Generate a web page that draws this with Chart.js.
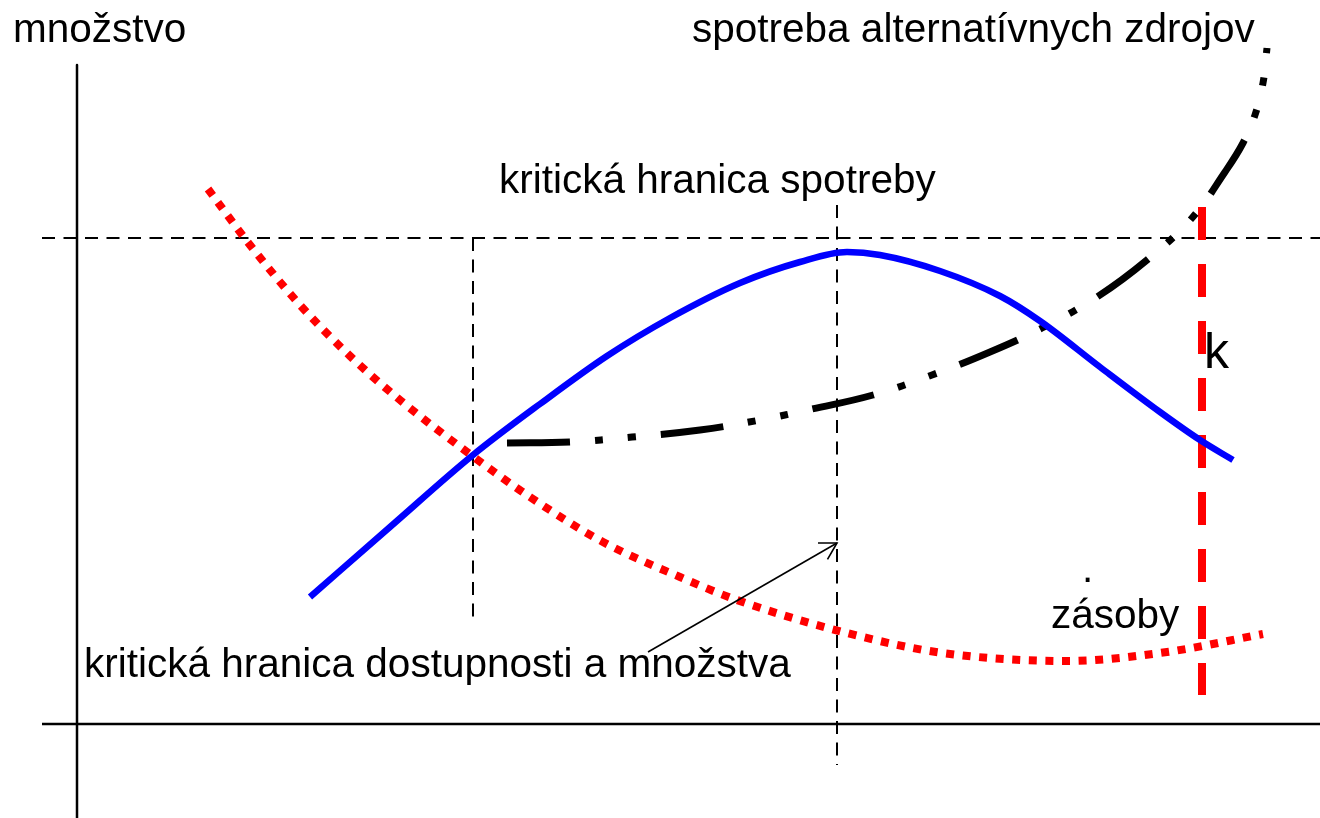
<!DOCTYPE html>
<html>
<head>
<meta charset="utf-8">
<script src="https://cdn.jsdelivr.net/npm/chart.js@4.4.1/dist/chart.umd.min.js"></script>
<style>
html,body{margin:0;padding:0;background:#ffffff;overflow:hidden;}
#wrap{width:1320px;height:818px;}
canvas{display:block;}
</style>
</head>
<body>
<div id="wrap"><canvas id="c" width="1320" height="818"></canvas></div>
<script>
// ---- data (schematic units, origin at the axes crossing) ----
const consumptionX = [233,313,396,463,530,593,663,723,770,803,863,923,963,1023,1083,1123,1156];
const consumptionY = [127,197,269,320,368,406,441,462,472,469,453,428,403,357,312,284,264];

const reservesX = [131,173,223,273,323,390,453,526,603,660,770,866,990,1090,1186];
const reservesY = [535,479,419,368,324,272,227,182,147,124,91,71,63,72,90];

const alternativeX = [430,493,555,623,683,735,796,855,913,965,1020,1070,1115,1148,1166,1178,1186,1190];
const alternativeY = [281,282,287,294,304,315,329,349,372,396,427,464,506,552,581,609,641,676];

const criticalLevelX = [-35,1243];
const criticalLevelY = [486,486];

const availabilityLimitX = [396,396];
const availabilityLimitY = [486,101];

const consumptionLimitX = [760,760];
const consumptionLimitY = [519,-41];

const kLimitX = [1125,1125];
const kLimitY = [517,29];

const yAxisX = [0,0];
const yAxisY = [659,-94];
const xAxisX = [-35,1243];
const xAxisY = [0,0];

const arrowX = [571,760];
const arrowY = [72,181];

const labelTexts = [
  'množstvo',
  'spotreba alternatívnych zdrojov',
  'kritická hranica spotreby',
  'k',
  'zásoby',
  '.',
  'kritická hranica dostupnosti a množstva'
];
// placement of the texts (kept separate from the data)
const labelPlacement = [
  {x:-64, y:682, size:40.5},
  {x:615, y:682, size:40.5},
  {x:422, y:531, size:40.5},
  {x:1127, y:356, size:50},
  {x:974, y:96, size:40.5},
  {x:1005, y:142, size:40.5},
  {x:7, y:47, size:40.5}
];

function pts(xs, ys){ return xs.map((v,i)=>({x:v, y:ys[i]})); }

function lineSet(xs, ys, color, width, dash, curve){
  const ds = {
    data: pts(xs, ys),
    showLine: true,
    borderColor: color,
    backgroundColor: color,
    borderWidth: width,
    borderDash: dash || [],
    borderCapStyle: 'butt',
    borderJoinStyle: 'round',
    pointRadius: 0,
    pointHoverRadius: 0,
    tension: 0,
    fill: false,
    clip: false
  };
  if (curve === 'monotone') { ds.cubicInterpolationMode = 'monotone'; ds.tension = 0.4; }
  else if (curve) { ds.tension = curve; }
  return ds;
}

const FONT = '"Liberation Sans", Arial, Helvetica, sans-serif';

const overlayPlugin = {
  id: 'overlay',
  afterDatasetsDraw(chart){
    const {ctx, scales:{x, y}} = chart;
    ctx.save();
    // arrow head
    const tx = x.getPixelForValue(arrowX[1]), ty = y.getPixelForValue(arrowY[1]);
    const sx = x.getPixelForValue(arrowX[0]), sy = y.getPixelForValue(arrowY[0]);
    const ang = Math.atan2(ty - sy, tx - sx);
    const len = 19;
    ctx.strokeStyle = '#000';
    ctx.lineWidth = 1.6;
    ctx.beginPath();
    ctx.moveTo(tx + len*Math.cos(ang + Math.PI - Math.PI/6), ty + len*Math.sin(ang + Math.PI - Math.PI/6));
    ctx.lineTo(tx, ty);
    ctx.lineTo(tx + len*Math.cos(ang + Math.PI + Math.PI/6), ty + len*Math.sin(ang + Math.PI + Math.PI/6));
    ctx.stroke();
    // texts
    ctx.fillStyle = '#000';
    ctx.textAlign = 'left';
    ctx.textBaseline = 'alphabetic';
    labelTexts.forEach((t, i) => {
      const p = labelPlacement[i];
      ctx.font = p.size + 'px ' + FONT;
      ctx.fillText(t, x.getPixelForValue(p.x), y.getPixelForValue(p.y));
    });
    ctx.restore();
  }
};

Chart.defaults.font.family = FONT;

new Chart(document.getElementById('c'), {
  type: 'scatter',
  data: {
    datasets: [
      lineSet(arrowX, arrowY, '#000000', 1.6),
      lineSet(consumptionX, consumptionY, '#0000ff', 6.5, [], 'monotone'),
      lineSet(alternativeX, alternativeY, '#000000', 7, [63,25,8,25,8,25], 0.4),
      lineSet(reservesX, reservesY, '#ff0000', 8, [8,8.6], 'monotone'),
      lineSet(kLimitX, kLimitY, '#ff0000', 8, [33,24]),
      lineSet(criticalLevelX, criticalLevelY, '#000000', 2, [13,8.5]),
      lineSet(availabilityLimitX, availabilityLimitY, '#000000', 2, [13,8.5]),
      lineSet(consumptionLimitX, consumptionLimitY, '#000000', 2, [13,8.5]),
      lineSet(yAxisX, yAxisY, '#000000', 2.5),
      lineSet(xAxisX, xAxisY, '#000000', 2.5)
    ]
  },
  options: {
    responsive: false,
    maintainAspectRatio: false,
    devicePixelRatio: 1,
    animation: false,
    events: [],
    layout: {padding: 0},
    plugins: {
      legend: {display: false},
      tooltip: {enabled: false},
      title: {display: false}
    },
    scales: {
      x: {type: 'linear', min: -77, max: 1243, display: false},
      y: {type: 'linear', min: -94, max: 724, display: false}
    }
  },
  plugins: [overlayPlugin]
});
</script>
</body>
</html>
